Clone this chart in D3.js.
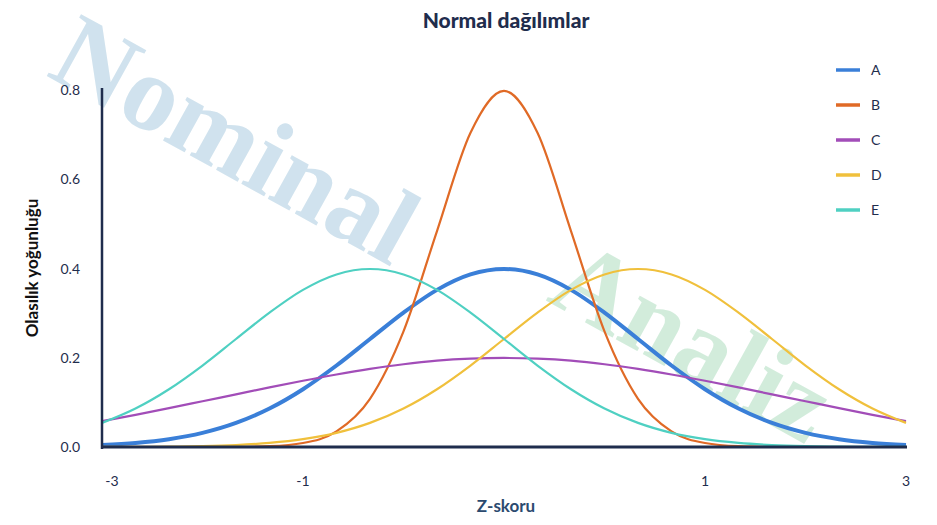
<!DOCTYPE html>
<html><head><meta charset="utf-8">
<script src="https://cdn.jsdelivr.net/npm/d3@7"></script>
<style>body{margin:0;background:#fff}</style></head>
<body><svg id="c" width="937" height="525"></svg>
<script>
const xs = [-3,-2.75,-2.5,-2.25,-2,-1.75,-1.5,-1.25,-1,-0.75,-0.5,-0.25,0,0.25,0.5,0.75,1,1.25,1.5,1.75,2,2.25,2.5,2.75,3];
const seriesA = [.0044,.0091,.0175,.0317,.0540,.0863,.1295,.1826,.2420,.3011,.3521,.3867,.3989,.3867,.3521,.3011,.2420,.1826,.1295,.0863,.0540,.0317,.0175,.0091,.0044];
const seriesB = [0,0,0,0,.0003,.0018,.0089,.0350,.1080,.2590,.4839,.7041,.7979,.7041,.4839,.2590,.1080,.0350,.0089,.0018,.0003,0,0,0,0];
const seriesC = [.0580,.0720,.0870,.1025,.1180,.1335,.1485,.1625,.1750,.1855,.1934,.1979,.1995,.1979,.1934,.1855,.1750,.1625,.1485,.1335,.1180,.1025,.0870,.0720,.0580];
const seriesD = [.0001,.0004,.0009,.0020,.0044,.0091,.0175,.0317,.0540,.0863,.1295,.1826,.2420,.3011,.3521,.3867,.3989,.3867,.3521,.3011,.2420,.1826,.1295,.0863,.0540];
const seriesE = seriesD.slice().reverse();
const names = ["A","B","C","D","E"];
const colors = ["#3a7fd8","#e06a26","#a24db8","#f0c03c","#4fd0c2"];
const widths = [4,2.2,2.2,2.2,2.2];
const yTicks = [0,0.2,0.4,0.6,0.8];
const xTickPos = [-3,-1.5,1.5,3];
const xTickLabels = ["-3","-1","1","3"];
const all = [seriesA,seriesB,seriesC,seriesD,seriesE];

const svg = d3.select("#c");
const x = d3.scaleLinear().domain([-3,3]).range([102,906]);
const y = d3.scaleLinear().domain([0,0.8]).range([447,90]);
const navy = "#1f2d4d";

svg.append("text").attr("transform","translate(45,75) rotate(29)")
  .attr("font-family","Liberation Serif").attr("font-weight","bold").attr("font-size",108).attr("fill","#c5dcea").attr("opacity",0.8)
  .text("Nominal");
svg.append("text").attr("transform","translate(545,300) rotate(29)")
  .attr("font-family","Liberation Serif").attr("font-weight","bold").attr("font-size",108).attr("fill","#c7e8d3").attr("opacity",0.8)
  .text("Analiz");

svg.append("text").attr("x",506).attr("y",28).attr("text-anchor","middle")
  .attr("font-family","Lato").attr("font-weight","900").attr("font-size",21).attr("fill",navy).text("Normal dağılımlar");

const line = d3.line().x((d,i)=>x(xs[i])).y(d=>y(d)).curve(d3.curveMonotoneX);
all.forEach((s,i)=>{
  svg.append("path").datum(s).attr("d",line).attr("fill","none")
    .attr("stroke",colors[i]).attr("stroke-width",widths[i]);
});

svg.append("line").attr("x1",102).attr("x2",102).attr("y1",88).attr("y2",449).attr("stroke",navy).attr("stroke-width",2.5);
svg.append("line").attr("x1",101).attr("x2",907).attr("y1",447).attr("y2",447).attr("stroke",navy).attr("stroke-width",3);
yTicks.forEach(t=>{
  svg.append("text").attr("x",80).attr("y",y(t)+5).attr("text-anchor","end")
    .attr("font-family","Lato").attr("font-size",14).attr("fill",navy).text(t.toFixed(1));
});
xTickPos.forEach((t,i)=>{
  svg.append("text").attr("x",x(t)+(i==0?10:0)).attr("y",486).attr("text-anchor","middle")
    .attr("font-family","Lato").attr("font-size",14).attr("fill",navy).text(xTickLabels[i]);
});
svg.append("text").attr("x",506).attr("y",512).attr("text-anchor","middle")
  .attr("font-family","Lato").attr("font-weight","bold").attr("font-size",17).attr("fill","#2b4a6f").text("Z-skoru");
svg.append("text").attr("transform","translate(38,268) rotate(-90)").attr("text-anchor","middle")
  .attr("font-family","Lato").attr("font-weight","bold").attr("font-size",17).attr("fill","#111").text("Olasılık yoğunluğu");

names.forEach((n,i)=>{
  const yy = 70+i*35;
  svg.append("line").attr("x1",836).attr("x2",860).attr("y1",yy).attr("y2",yy).attr("stroke",colors[i]).attr("stroke-width",3.5);
  svg.append("text").attr("x",871).attr("y",yy+5).attr("font-family","Lato").attr("font-size",14).attr("fill",navy).text(n);
});
</script></body></html>
